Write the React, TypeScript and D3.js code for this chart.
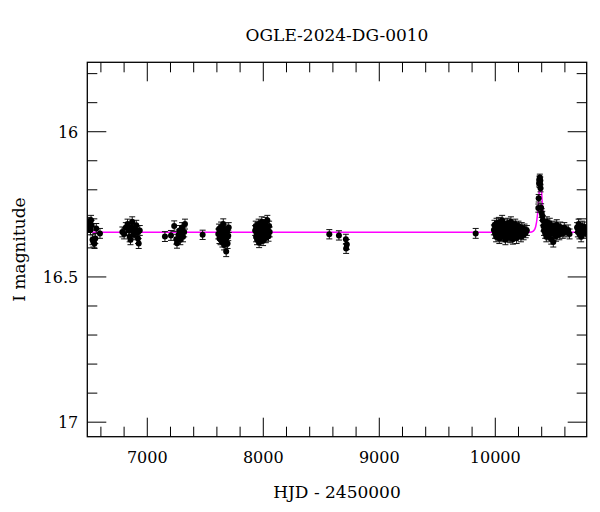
import * as d3 from "d3";
import { useEffect, useRef } from "react";

// [HJD - 2450000, I mag, error]
const season2014 = [
  [6490, 16.318, 0.017], [6495, 16.330, 0.017], [6500, 16.312, 0.017], [6505, 16.325, 0.017],
  [6510, 16.338, 0.017], [6515, 16.305, 0.017], [6520, 16.322, 0.017], [6528, 16.372, 0.017],
  [6535, 16.380, 0.017], [6545, 16.385, 0.017], [6552, 16.368, 0.017], [6560, 16.333, 0.017],
  [6592, 16.350, 0.017],
];
const season2015 = [
  [6785, 16.345, 0.017], [6800, 16.352, 0.017], [6815, 16.330, 0.017], [6830, 16.318, 0.017],
  [6840, 16.340, 0.017], [6848, 16.362, 0.017], [6855, 16.372, 0.017], [6862, 16.328, 0.017],
  [6870, 16.310, 0.017], [6878, 16.345, 0.017], [6885, 16.355, 0.017], [6895, 16.336, 0.017],
  [6905, 16.322, 0.017], [6912, 16.348, 0.017], [6920, 16.368, 0.017], [6926, 16.385, 0.017],
  [6935, 16.340, 0.017],
];
const season2016 = [
  [7152, 16.361, 0.017], [7204, 16.357, 0.017], [7232, 16.325, 0.018], [7250, 16.370, 0.017],
  [7256, 16.384, 0.017], [7270, 16.355, 0.017], [7278, 16.340, 0.017], [7285, 16.372, 0.017],
  [7292, 16.350, 0.017], [7300, 16.330, 0.017], [7308, 16.362, 0.017], [7318, 16.345, 0.017],
  [7325, 16.318, 0.017], [7477, 16.355, 0.016],
];
const season2017 = [
  [7612, 16.352, 0.017], [7618, 16.335, 0.017], [7622, 16.368, 0.017], [7628, 16.345, 0.017],
  [7632, 16.372, 0.017], [7636, 16.328, 0.017], [7640, 16.358, 0.017], [7644, 16.340, 0.017],
  [7648, 16.380, 0.017], [7652, 16.362, 0.017], [7655, 16.318, 0.018], [7658, 16.348, 0.017],
  [7662, 16.390, 0.017], [7665, 16.355, 0.017], [7668, 16.335, 0.017], [7672, 16.372, 0.017],
  [7676, 16.350, 0.017], [7680, 16.412, 0.018], [7684, 16.365, 0.017], [7688, 16.342, 0.017],
  [7692, 16.385, 0.017], [7698, 16.358, 0.017], [7702, 16.330, 0.017],
];
const season2018 = [
  [7930, 16.340, 0.017], [7935, 16.325, 0.017], [7938, 16.362, 0.017], [7942, 16.350, 0.017],
  [7946, 16.372, 0.017], [7950, 16.330, 0.017], [7953, 16.345, 0.017], [7957, 16.358, 0.017],
  [7960, 16.318, 0.017], [7964, 16.382, 0.017], [7968, 16.338, 0.017], [7972, 16.352, 0.017],
  [7975, 16.368, 0.017], [7979, 16.328, 0.017], [7983, 16.345, 0.017], [7987, 16.310, 0.017],
  [7990, 16.360, 0.017], [7994, 16.335, 0.017], [7998, 16.375, 0.017], [8002, 16.348, 0.017],
  [8006, 16.320, 0.017], [8010, 16.358, 0.017], [8014, 16.342, 0.017], [8018, 16.312, 0.017],
  [8022, 16.365, 0.017], [8026, 16.330, 0.017], [8030, 16.350, 0.017], [8035, 16.305, 0.017],
  [8040, 16.340, 0.017], [8045, 16.360, 0.017], [8050, 16.325, 0.017], [8055, 16.345, 0.017],
];
const season2019 = [
  [8569, 16.353, 0.016], [8652, 16.357, 0.016], [8712, 16.370, 0.017], [8720, 16.388, 0.017],
  [8714, 16.402, 0.017], [9831, 16.350, 0.017],
];
const season2023 = [
  [9988, 16.338, 0.017], [9993, 16.322, 0.017], [9998, 16.350, 0.017], [10003, 16.330, 0.017],
  [10007, 16.362, 0.017], [10011, 16.315, 0.017], [10015, 16.345, 0.017], [10019, 16.328, 0.017],
  [10023, 16.355, 0.017], [10027, 16.340, 0.017], [10031, 16.312, 0.017], [10035, 16.368, 0.017],
  [10039, 16.335, 0.017], [10043, 16.348, 0.017], [10047, 16.322, 0.017], [10051, 16.358, 0.017],
  [10055, 16.338, 0.017], [10059, 16.305, 0.017], [10063, 16.345, 0.017], [10067, 16.362, 0.017],
  [10071, 16.330, 0.017], [10075, 16.352, 0.017], [10079, 16.318, 0.017], [10083, 16.340, 0.017],
  [10087, 16.372, 0.017], [10091, 16.335, 0.017], [10095, 16.325, 0.017], [10099, 16.355, 0.017],
  [10103, 16.342, 0.017], [10107, 16.315, 0.017], [10111, 16.360, 0.017], [10115, 16.332, 0.017],
  [10119, 16.348, 0.017], [10123, 16.322, 0.017], [10127, 16.365, 0.017], [10131, 16.340, 0.017],
  [10135, 16.310, 0.017], [10139, 16.352, 0.017], [10143, 16.335, 0.017], [10147, 16.345, 0.017],
  [10152, 16.370, 0.017], [10157, 16.325, 0.017], [10162, 16.342, 0.017], [10167, 16.355, 0.017],
  [10172, 16.318, 0.017], [10177, 16.345, 0.017], [10184, 16.367, 0.018], [10188, 16.332, 0.017],
  [10194, 16.338, 0.017], [10200, 16.325, 0.017], [10207, 16.350, 0.017], [10214, 16.340, 0.017],
  [10221, 16.362, 0.017], [10228, 16.330, 0.017], [10236, 16.345, 0.017], [10244, 16.355, 0.017],
  [10252, 16.335, 0.017], [10262, 16.348, 0.017], [10272, 16.340, 0.017],
];
const season2024 = [
  [10371, 16.263, 0.014], [10374, 16.229, 0.013], [10378, 16.178, 0.012], [10380, 16.165, 0.012],
  [10382, 16.172, 0.012], [10384, 16.158, 0.012], [10386, 16.180, 0.012], [10388, 16.168, 0.012],
  [10390, 16.195, 0.012], [10395, 16.262, 0.014], [10400, 16.280, 0.015], [10405, 16.290, 0.016],
  [10410, 16.305, 0.017], [10415, 16.325, 0.017], [10420, 16.340, 0.017], [10425, 16.318, 0.017],
  [10430, 16.350, 0.017], [10435, 16.332, 0.017], [10440, 16.362, 0.017], [10445, 16.310, 0.017],
  [10450, 16.345, 0.017], [10455, 16.328, 0.017], [10460, 16.355, 0.017], [10465, 16.338, 0.017],
  [10470, 16.315, 0.017], [10476, 16.350, 0.017], [10482, 16.370, 0.017], [10488, 16.332, 0.017],
  [10494, 16.345, 0.017], [10500, 16.380, 0.017], [10506, 16.325, 0.017], [10512, 16.352, 0.017],
  [10518, 16.338, 0.017], [10524, 16.360, 0.017], [10530, 16.320, 0.017], [10537, 16.345, 0.017],
  [10544, 16.335, 0.017], [10552, 16.355, 0.017], [10560, 16.328, 0.017], [10570, 16.342, 0.017],
  [10582, 16.350, 0.017], [10595, 16.330, 0.017], [10610, 16.345, 0.017], [10628, 16.338, 0.017],
  [10640, 16.352, 0.017],
];
const season2025 = [
  [10705, 16.330, 0.017], [10712, 16.345, 0.017], [10718, 16.318, 0.017], [10725, 16.352, 0.017],
  [10732, 16.335, 0.017], [10740, 16.362, 0.017], [10748, 16.325, 0.017], [10755, 16.340, 0.017],
  [10762, 16.350, 0.017], [10770, 16.328, 0.017], [10778, 16.345, 0.017], [10785, 16.338, 0.017],
];

// model curve
const modelT = [6480, 10299, 10328, 10348, 10362, 10374, 10383, 10388, 10394, 10403, 10411, 10420, 10437, 10471, 10790];
const modelMag = [16.346, 16.346, 16.342, 16.327, 16.292, 16.235, 16.178, 16.169, 16.172, 16.235, 16.292, 16.322, 16.340, 16.345, 16.346];

const xDomain = [6482.8, 10788];
const yDomain = [15.761, 17.05];
const xMajor = [7000, 8000, 9000, 10000];
const xMinor = d3.range(6600, 10800, 200);
const yMajor = [16, 16.5, 17];
const yMinor = [15.8, 15.9, 16.1, 16.2, 16.3, 16.4, 16.6, 16.7, 16.8, 16.9];

const title = "OGLE-2024-DG-0010";
const xLabel = "HJD - 2450000";
const yLabel = "I magnitude";

const App = () => {
  const ref: any = useRef();

  useEffect(() => {
    const svg = d3.select(ref.current);
    svg.selectAll("*").remove();

    const margin = { top: 62.3, right: 13.3, bottom: 75.3, left: 87.3 };
    const W = 600, H = 512;
    const width = W - margin.left - margin.right;
    const height = H - margin.top - margin.bottom;
    const font = "'DejaVu Serif', serif";

    const x = d3.scaleLinear().domain(xDomain).range([0, width]);
    const y = d3.scaleLinear().domain(yDomain).range([0, height]);

    svg.append("defs").append("clipPath").attr("id", "plotclip")
      .append("rect").attr("width", width).attr("height", height);

    const g = svg.append("g").attr("transform", `translate(${margin.left},${margin.top})`);

    // ticks on all four sides
    const ticks = g.append("g").attr("stroke", "#000").attr("stroke-width", 1);
    const xt = [...xMajor.map((v) => [v, 19]), ...xMinor.filter((v) => !xMajor.includes(v)).map((v) => [v, 10])];
    xt.forEach(([v, len]) => {
      ticks.append("line").attr("x1", x(v)).attr("x2", x(v)).attr("y1", height).attr("y2", height - len);
      ticks.append("line").attr("x1", x(v)).attr("x2", x(v)).attr("y1", 0).attr("y2", len);
    });
    const yt = [...yMajor.map((v) => [v, 19]), ...yMinor.map((v) => [v, 10])];
    yt.forEach(([v, len]) => {
      ticks.append("line").attr("y1", y(v)).attr("y2", y(v)).attr("x1", 0).attr("x2", len);
      ticks.append("line").attr("y1", y(v)).attr("y2", y(v)).attr("x1", width).attr("x2", width - len);
    });

    const plot = g.append("g").attr("clip-path", "url(#plotclip)");

    // model
    const line = d3.line<number>()
      .x((_, i) => x(modelT[i]))
      .y((d) => y(d))
      .curve(d3.curveMonotoneX);
    plot.append("path")
      .attr("d", line(modelMag))
      .attr("fill", "none")
      .attr("stroke", "#ff00ff")
      .attr("stroke-width", 1.5);

    // data with error bars
    const all = [...season2014, ...season2015, ...season2016, ...season2017, ...season2018,
      ...season2019, ...season2023, ...season2024, ...season2025];
    const eb = plot.append("g").attr("stroke", "#111").attr("stroke-width", 1);
    all.forEach(([t, m, e]) => {
      const cx = x(t);
      eb.append("line").attr("x1", cx).attr("x2", cx).attr("y1", y(m - e)).attr("y2", y(m + e));
      eb.append("line").attr("x1", cx - 3).attr("x2", cx + 3).attr("y1", y(m - e)).attr("y2", y(m - e));
      eb.append("line").attr("x1", cx - 3).attr("x2", cx + 3).attr("y1", y(m + e)).attr("y2", y(m + e));
    });
    plot.append("g").selectAll("circle").data(all).join("circle")
      .attr("cx", (d) => x(d[0]))
      .attr("cy", (d) => y(d[1]))
      .attr("r", 3)
      .attr("fill", "#000");

    // frame
    g.append("rect").attr("width", width).attr("height", height)
      .attr("fill", "none").attr("stroke", "#000").attr("stroke-width", 1.3);

    // tick labels
    xMajor.forEach((v) => {
      g.append("text").attr("x", x(v)).attr("y", height + 26.5)
        .attr("text-anchor", "middle").attr("font-family", font).attr("font-size", 16)
        .text(String(v));
    });
    yMajor.forEach((v) => {
      g.append("text").attr("x", -9).attr("y", y(v) + 6)
        .attr("text-anchor", "end").attr("font-family", font).attr("font-size", 16)
        .text(String(v));
    });

    svg.append("text").attr("x", margin.left + width / 2).attr("y", 41)
      .attr("text-anchor", "middle").attr("font-family", font).attr("font-size", 17)
      .text(title);
    svg.append("text").attr("x", margin.left + width / 2).attr("y", 498)
      .attr("text-anchor", "middle").attr("font-family", font).attr("font-size", 17)
      .text(xLabel);
    svg.append("text")
      .attr("transform", `translate(25,${margin.top + height / 2}) rotate(-90)`)
      .attr("text-anchor", "middle").attr("font-family", font).attr("font-size", 17)
      .text(yLabel);
  }, []);

  return (
    <svg ref={ref} width={600} height={512}
      style={{ position: "absolute", left: 0, top: 0, background: "#fff" }} />
  );
};

export default App;
